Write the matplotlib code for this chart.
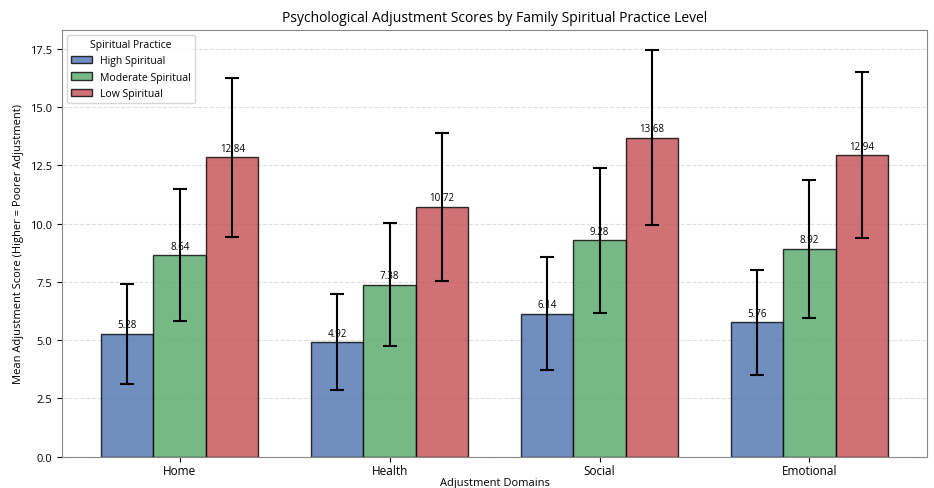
import matplotlib

matplotlib.use("Agg")
import matplotlib.pyplot as plt
import numpy as np

domains = ["Home", "Health", "Social", "Emotional"]
groups = ["High Spiritual", "Moderate Spiritual", "Low Spiritual"]
high_mean = [5.28, 4.92, 6.14, 5.76]
moderate_mean = [8.64, 7.38, 9.28, 8.92]
low_mean = [12.84, 10.72, 13.68, 12.94]
high_sd = [2.14, 2.07, 2.41, 2.24]
moderate_sd = [2.84, 2.64, 3.12, 2.96]
low_sd = [3.42, 3.17, 3.76, 3.56]

COLORS = ["#4C72B0", "#55A868", "#C44E52"]

plt.rcParams["font.family"] = ["Open Sans", "DejaVu Sans"]

fig, ax = plt.subplots(figsize=(9.34, 4.89), dpi=100)
fig.subplots_adjust(left=0.066, right=0.993, top=0.937, bottom=0.064)

x = np.arange(len(domains))
width = 0.25
for i, (name, means, sds) in enumerate(zip(groups,
                                           [high_mean, moderate_mean, low_mean],
                                           [high_sd, moderate_sd, low_sd])):
    pos = x + (i - 1) * width
    bars = ax.bar(pos, means, width, yerr=sds, capsize=5, color=COLORS[i], alpha=0.8,
                  edgecolor="black", linewidth=1, label=name,
                  error_kw=dict(elinewidth=1.5, capthick=1.5, ecolor="black"))
    for b, m in zip(bars, means):
        ax.text(b.get_x() + b.get_width() / 2, m + 0.15, f"{m:.2f}",
                ha="center", va="bottom", fontsize=7)

ax.set_xticks(x)
ax.set_xticklabels(domains, fontsize=8.5)
ax.tick_params(axis="x", pad=1.5)
ax.tick_params(axis="y", labelsize=8)
ax.set_xlabel("Adjustment Domains", fontsize=8, labelpad=0)
ax.set_ylabel("Mean Adjustment Score (Higher = Poorer Adjustment)", fontsize=8)
ax.set_title("Psychological Adjustment Scores by Family Spiritual Practice Level", fontsize=10)
ax.yaxis.grid(True, linestyle="--", color="lightgray", alpha=0.7)
ax.set_axisbelow(True)
for s in ax.spines.values():
    s.set_color("#888888")
ax.legend(title="Spiritual Practice", loc="upper left", fontsize=7.5, title_fontsize=7.5)

fig.savefig("out.png", dpi=100)
